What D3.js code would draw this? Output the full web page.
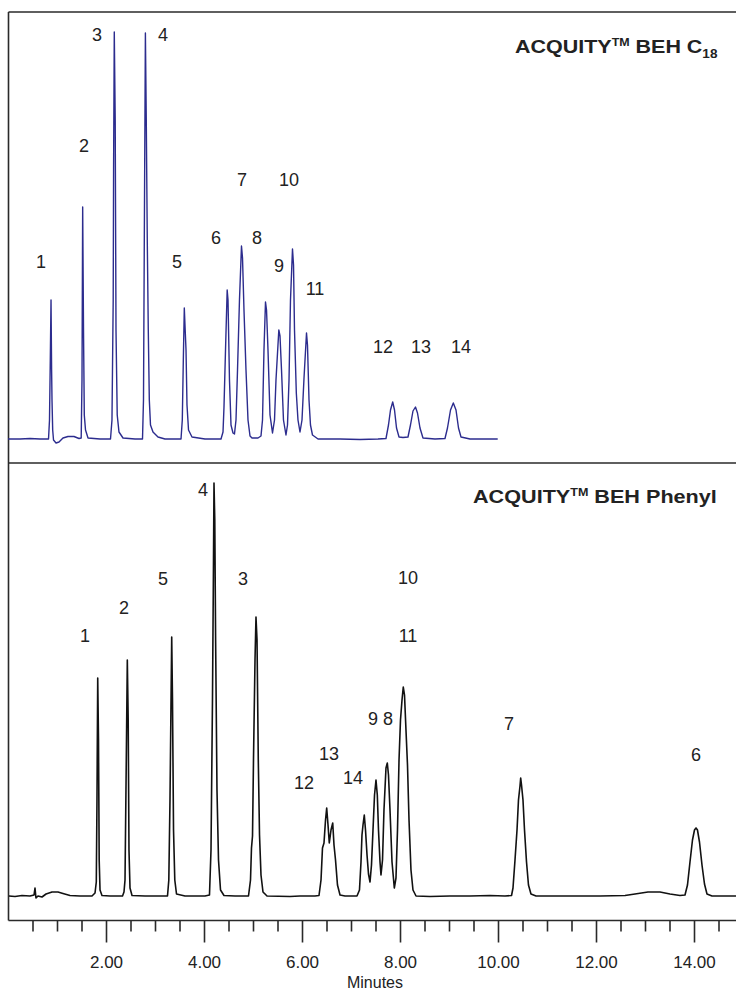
<!DOCTYPE html>
<html>
<head>
<meta charset="utf-8">
<script src="https://cdn.jsdelivr.net/npm/d3@7/dist/d3.min.js"></script>
<style>
  html, body { margin: 0; padding: 0; background: #fff; }
  svg { display: block; }
  text { font-family: "Liberation Sans", Arial, Helvetica, sans-serif; fill: #222; }
</style>
</head>
<body>
<svg id="chart" width="736" height="993"></svg>
<script>
// ---------- DATA ----------
// Time axis (minutes)
const majorTicks = [2, 4, 6, 8, 10, 12, 14];
const minorTicks = [0.5, 1, 1.5, 2.5, 3, 3.5, 4.5, 5, 5.5, 6.5, 7, 7.5, 8.5, 9, 9.5, 10.5, 11, 11.5, 12.5, 13, 13.5, 14.5];
const axisTitle = "Minutes";

// Top panel: ACQUITY BEH C18 chromatogram (time in min, relative signal)
const c18Time = [0.000,0.245,0.449,0.653,0.827,0.847,0.863,0.878,0.890,0.898,0.912,0.929,0.980,1.041,1.122,1.224,1.347,1.449,1.494,1.510,1.524,1.541,1.557,1.582,1.633,1.878,2.092,2.122,2.147,2.155,2.169,2.188,2.204,2.229,2.265,2.347,2.592,2.745,2.765,2.786,2.804,2.822,2.843,2.863,2.884,2.908,2.959,3.061,3.204,3.531,3.557,3.578,3.598,3.616,3.633,3.653,3.684,3.755,4.020,4.347,4.388,4.408,4.439,4.473,4.490,4.520,4.551,4.592,4.622,4.653,4.684,4.724,4.765,4.786,4.816,4.857,4.898,4.939,4.980,5.102,5.163,5.194,5.224,5.255,5.276,5.306,5.347,5.398,5.439,5.469,5.527,5.551,5.582,5.622,5.673,5.704,5.735,5.765,5.806,5.827,5.847,5.884,5.918,5.959,6.000,6.041,6.092,6.112,6.143,6.173,6.214,6.327,6.776,7.184,7.551,7.714,7.765,7.806,7.851,7.888,7.929,7.980,8.061,8.163,8.214,8.265,8.316,8.357,8.408,8.469,8.714,8.918,8.969,9.031,9.088,9.143,9.194,9.245,9.429,9.735,9.994];
const c18Signal = [0,0,0.5,0,0,19,79,139,69,39,9,-1,-4,-3,1,2.5,2.5,0.5,1,59,232,109,24,9,1,0,0,19,139,272,407,319,109,24,7,1,0,0,39,239,406,319,196,109,39,14,7,2,0,0,19,79,131,109,89,34,9,2,0,0,7,32,89,149,139,59,14,6,5,19,69,139,193,181,129,69,19,3,1,1,3,19,89,137,129,89,24,6,19,59,109,103,69,19,4,14,59,139,190,174,109,46,19,7,19,61,106,94,39,14,4,0,0,-0.5,0,0.5,14,29,37,29,11,2,1.5,2,14,28,32,26,11,1,0,0.5,11,29,36,29,11,2,0,0,0];

// Bottom panel: ACQUITY BEH Phenyl chromatogram
const phenylTime = [0.020,0.143,0.286,0.449,0.531,0.551,0.571,0.612,0.694,0.776,0.898,1.020,1.122,1.265,1.469,1.714,1.776,1.802,1.816,1.831,1.847,1.861,1.878,1.918,2.082,2.337,2.367,2.388,2.414,2.435,2.453,2.469,2.490,2.531,2.796,3.255,3.282,3.306,3.341,3.357,3.378,3.404,3.439,3.612,4.020,4.112,4.143,4.173,4.194,4.204,4.220,4.237,4.265,4.296,4.337,4.408,4.633,4.908,4.949,4.969,4.990,5.010,5.041,5.061,5.082,5.108,5.133,5.163,5.204,5.286,5.755,5.959,6.265,6.347,6.388,6.418,6.449,6.480,6.504,6.531,6.557,6.592,6.627,6.653,6.684,6.724,6.776,6.878,7.122,7.173,7.204,7.224,7.245,7.271,7.296,7.327,7.357,7.388,7.418,7.449,7.480,7.510,7.537,7.561,7.592,7.612,7.643,7.673,7.714,7.741,7.765,7.796,7.837,7.884,7.918,7.949,7.980,8.010,8.041,8.067,8.092,8.122,8.153,8.184,8.224,8.265,8.327,8.612,9.020,9.429,9.837,10.143,10.276,10.306,10.347,10.388,10.418,10.449,10.463,10.480,10.510,10.541,10.582,10.622,10.673,10.776,11.265,12.082,12.592,12.796,13.061,13.306,13.510,13.714,13.816,13.867,13.918,13.969,14.010,14.041,14.071,14.112,14.163,14.214,14.265,14.367,14.857];
const phenylSignal = [0,-0.5,0.5,0,1,8,-2,0,-1,2,4,4,2.5,0.5,0,0,3,14,96,218,156,36,6,0.5,0,0,4,16,136,236,176,46,8,0.5,0,0,16,96,259,196,66,16,2,0,0,1,46,196,336,413,376,256,106,36,6,0.5,0,0,16,48,60,136,236,279,256,136,61,21,4,0,-0.5,0,0,0.5,16,48,53,76,88,71,53,66,73,51,36,11,1,0,0,6,34,61,71,81,66,41,22,14,31,66,101,116,101,66,34,21,36,86,128,133,121,86,34,8,18,66,136,176,196,209,201,166,131,76,26,6,0,-0.5,0,0,0.5,0,0.5,8,36,66,96,110,118,111,96,66,34,11,2,0,0,0,0.5,2,4,4,2,0.5,1,11,34,56,66,68,66,54,31,12,2,0,0];

// Peak number annotations (label, time, signal level)
const c18LabelText   = ["1","2","3","4","5","6","7","8","9","10","11","12","13","14"];
const c18LabelTime   = [0.673,1.551,1.816,3.163,3.449,4.245,4.776,5.082,5.531,5.735,6.265,7.653,8.429,9.245];
const c18LabelSignal = [177,293,404,404,177,201,259,201,173,259,150,92,92,92];

const phenylLabelText   = ["1","2","5","4","3","12","13","14","9","8","10","11","7","6"];
const phenylLabelTime   = [1.571,2.367,3.163,3.980,4.796,6.041,6.551,7.041,7.449,7.755,8.163,8.163,10.224,14.041];
const phenylLabelSignal = [260,288,317,406,317,113,142,118,177,177,318,260,172,141];

const c18Title = {main: "ACQUITY", sup: "TM", rest: " BEH C", sub: "18"};
const phenylTitle = {main: "ACQUITY", sup: "TM", rest: " BEH Phenyl", sub: ""};

// ---------- LAYOUT ----------
const W = 736, H = 993;
const frameLeft = 8.5, frameTop = 12, divider = 463, axisY = 920.5;
const svg = d3.select("#chart");

const x = d3.scaleLinear().domain([0, 15]).range([8, 743]);
const yTop = d3.scaleLinear().domain([0, 407]).range([439, 32]);
const yBot = d3.scaleLinear().domain([0, 413]).range([896, 483]);

const zip = (a, b) => a.map((t, i) => ({t, v: b[i]}));

// frame
const frame = svg.append("g").attr("stroke", "#2a2a2a").attr("stroke-width", 1.6).attr("fill", "none");
frame.append("line").attr("x1", frameLeft).attr("x2", W).attr("y1", frameTop).attr("y2", frameTop);
frame.append("line").attr("x1", frameLeft).attr("x2", frameLeft).attr("y1", frameTop).attr("y2", axisY);
frame.append("line").attr("x1", frameLeft).attr("x2", W).attr("y1", divider).attr("y2", divider);

// traces
const lineTop = d3.line().x(d => x(d.t)).y(d => yTop(d.v));
const lineBot = d3.line().x(d => x(d.t)).y(d => yBot(d.v));

svg.append("path").datum(zip(c18Time, c18Signal))
  .attr("d", lineTop).attr("fill", "none").attr("stroke", "#2c2c8e")
  .attr("stroke-width", 1.4).attr("stroke-linejoin", "round");

svg.append("path").datum(zip(phenylTime, phenylSignal))
  .attr("d", lineBot).attr("fill", "none").attr("stroke", "#111")
  .attr("stroke-width", 1.6).attr("stroke-linejoin", "round");

// peak labels
function labels(texts, times, sigs, yScale) {
  svg.append("g").selectAll("text").data(texts).join("text")
    .attr("x", (d, i) => x(times[i]))
    .attr("y", (d, i) => yScale(sigs[i]))
    .attr("text-anchor", "middle")
    .attr("dominant-baseline", "central")
    .attr("font-size", 18)
    .text(d => d);
}
labels(c18LabelText, c18LabelTime, c18LabelSignal, yTop);
labels(phenylLabelText, phenylLabelTime, phenylLabelSignal, yBot);

// titles
function title(t, xl, xr, baseline) {
  const g = svg.append("g");
  const txt = g.append("text").attr("x", 0).attr("y", 0)
    .attr("font-size", 19).attr("font-weight", "bold").attr("fill", "#111");
  txt.append("tspan").text(t.main);
  txt.append("tspan").attr("font-size", 11).attr("dy", -7).text(t.sup);
  txt.append("tspan").attr("dy", 7).text(t.rest);
  if (t.sub) txt.append("tspan").attr("font-size", 12).attr("dy", 5).text(t.sub);
  const w = txt.node().getBBox().width;
  const sx = (xr - xl) / w;
  g.attr("transform", `translate(${xl},${baseline}) scale(${sx},1)`);
}
title(c18Title, 515, 718, 53);
title(phenylTitle, 473, 717, 503);

// axis
const axMinor = d3.axisBottom(x).tickValues(minorTicks).tickSize(11).tickSizeOuter(0).tickFormat("");
const axMajor = d3.axisBottom(x).tickValues(majorTicks).tickSize(22).tickSizeOuter(0).tickFormat(d3.format(".2f"));
const gMin = svg.append("g").attr("transform", `translate(0,${axisY})`).call(axMinor);
const gMaj = svg.append("g").attr("transform", `translate(0,${axisY})`).call(axMajor);
[gMin, gMaj].forEach(g => {
  g.select(".domain").remove();
  g.selectAll(".tick line").attr("stroke", "#2a2a2a").attr("stroke-width", 1.6);
});
gMaj.selectAll(".tick text").attr("y", 47).attr("dy", null)
  .attr("font-size", 17).attr("fill", "#333")
  .attr("font-family", "'Liberation Sans', Arial, sans-serif");
svg.append("line").attr("x1", frameLeft).attr("x2", W).attr("y1", axisY).attr("y2", axisY)
  .attr("stroke", "#2a2a2a").attr("stroke-width", 1.6);

svg.append("text").attr("x", 375).attr("y", 988).attr("text-anchor", "middle")
  .attr("font-size", 16).attr("fill", "#333").text(axisTitle);
</script>
</body>
</html>
